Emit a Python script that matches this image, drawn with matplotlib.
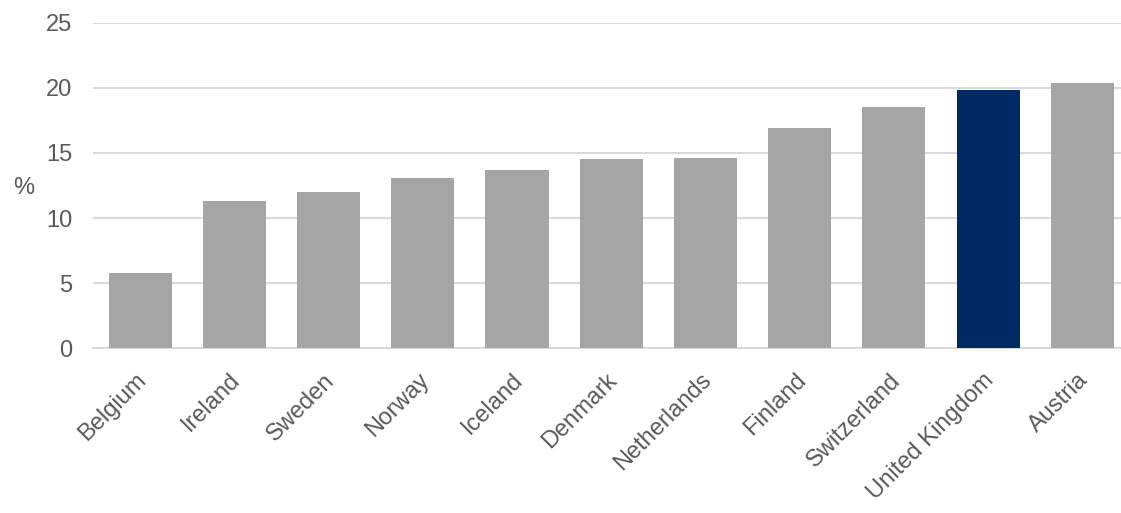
import matplotlib.pyplot as plt
import matplotlib.transforms as mtransforms

# data
countries = ["Belgium", "Ireland", "Sweden", "Norway", "Iceland", "Denmark",
             "Netherlands", "Finland", "Switzerland", "United Kingdom", "Austria"]
values = [5.8, 11.3, 12.0, 13.1, 13.7, 14.5, 14.6, 16.9, 18.5, 19.8, 20.4]
highlight = "United Kingdom"

plt.rcParams['font.family'] = ['Liberation Sans', 'DejaVu Sans']
txt = '#595959'

fig = plt.figure(figsize=(11.21, 5.13), dpi=100)
ax = fig.add_axes([93/1121, 1 - 348.3/513, 1 - 93/1121, (348.3 - 22.7)/513])

colors = ['#002a63' if c == highlight else '#a5a5a5' for c in countries]
ax.bar(range(len(countries)), values, width=0.67, color=colors, zorder=3)

ax.set_xlim(-0.5, 10.41)
ax.set_ylim(0, 25)
ax.set_yticks([0, 5, 10, 15, 20, 25])
ax.grid(axis='y', color='#d9d9d9', linewidth=1.5, zorder=0)
ax.set_axisbelow(True)
for s in ['top', 'right', 'left']:
    ax.spines[s].set_visible(False)
ax.spines['bottom'].set_color('#d9d9d9')
ax.spines['bottom'].set_linewidth(1.5)

ax.tick_params(axis='both', length=0, labelsize=17, labelcolor=txt)
ax.tick_params(axis='y', pad=15)
ax.set_xticks(range(len(countries)))
ax.set_xticklabels(countries, rotation=45, ha='right', rotation_mode='anchor')
ax.tick_params(axis='x', pad=15)

# nudge rotated labels a little to the left
shift = mtransforms.ScaledTranslation(-5/100, 0, fig.dpi_scale_trans)
for lab in ax.get_xticklabels():
    lab.set_transform(lab.get_transform() + shift)

# axis unit label sits horizontally left of the tick labels
fig.text(24/1121, 1 - 188/513, '%', fontsize=17, color=txt,
         ha='center', va='center')

fig.savefig('out.png', dpi=100)
